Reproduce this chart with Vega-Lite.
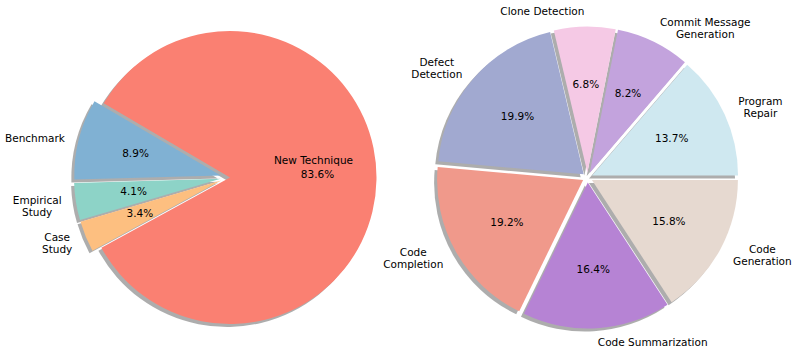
{
  "$schema": "https://vega.github.io/schema/vega-lite/v6.json",
  "padding": 0,
  "spacing": 0,
  "bounds": "flush",
  "background": "white",
  "resolve": {"scale": {"color": "independent", "theta": "independent"}},
  "config": {"view": {"stroke": null}, "font": "DejaVu Sans", "concat": {"spacing": 0}, "text": {"font": "DejaVu Sans", "fontSize": 10.5, "color": "#000000", "lineHeight": 12, "baseline": "middle"}},
  "hconcat": [
    {
      "width": 457,
      "height": 351,
      "data": {"values": [
        {"category": "Case Study", "label": "Case\nStudy", "share": 0.034},
        {"category": "Empirical Study", "label": "Empirical\nStudy", "share": 0.041},
        {"category": "Benchmark", "label": "Benchmark", "share": 0.089},
        {"category": "New Technique", "label": "New Technique", "share": 0.836}
      ]},
      "transform": [{"window": [{"op": "row_number", "as": "rank"}]}],
      "layer": [
        {"mark": {"type": "arc", "radius": 146.5, "xOffset": -10.7, "yOffset": 1, "fill": "#000000"},
         "encoding": {"theta": {"field": "share", "type": "quantitative", "stack": true, "scale": {"domain": [0, 1], "range": [4.2132, 10.4964]}}, "order": {"field": "rank", "type": "quantitative"}, "detail": {"field": "category"},
           "opacity": {"condition": {"test": "datum.category === 'Benchmark'", "value": 0.32}, "value": 0}}},
        {"mark": {"type": "arc", "radius": 146.5, "xOffset": -10.9, "yOffset": 4.3, "fill": "#000000"},
         "encoding": {"theta": {"field": "share", "type": "quantitative", "stack": true}, "order": {"field": "rank", "type": "quantitative"}, "detail": {"field": "category"},
           "opacity": {"condition": {"test": "datum.category === 'Empirical Study'", "value": 0.32}, "value": 0}}},
        {"mark": {"type": "arc", "radius": 146.5, "xOffset": -10.4, "yOffset": 5.5, "fill": "#000000"},
         "encoding": {"theta": {"field": "share", "type": "quantitative", "stack": true}, "order": {"field": "rank", "type": "quantitative"}, "detail": {"field": "category"},
           "opacity": {"condition": {"test": "datum.category === 'Case Study'", "value": 0.32}, "value": 0}}},
        {"mark": {"type": "arc", "radius": 146.5, "xOffset": -1.5, "yOffset": 3, "fill": "#000000"},
         "encoding": {"theta": {"field": "share", "type": "quantitative", "stack": true}, "order": {"field": "rank", "type": "quantitative"}, "detail": {"field": "category"},
           "opacity": {"condition": {"test": "datum.category === 'New Technique'", "value": 0.32}, "value": 0}}},
        {"mark": {"type": "arc", "radius": 146.5, "xOffset": -7.7, "yOffset": -2},
         "encoding": {"theta": {"field": "share", "type": "quantitative", "stack": true}, "order": {"field": "rank", "type": "quantitative"},
           "color": {"field": "category", "type": "nominal", "legend": null, "scale": {"domain": ["Case Study", "Empirical Study", "Benchmark", "New Technique"], "range": ["#FDBF80", "#8DD3C7", "#80B1D3", "#FA8072"]}},
           "opacity": {"condition": {"test": "datum.category === 'Benchmark'", "value": 1}, "value": 0}}},
        {"mark": {"type": "arc", "radius": 146.5, "xOffset": -7.9, "yOffset": 1.3},
         "encoding": {"theta": {"field": "share", "type": "quantitative", "stack": true}, "order": {"field": "rank", "type": "quantitative"},
           "color": {"field": "category", "type": "nominal", "legend": null},
           "opacity": {"condition": {"test": "datum.category === 'Empirical Study'", "value": 1}, "value": 0}}},
        {"mark": {"type": "arc", "radius": 146.5, "xOffset": -7.4, "yOffset": 3},
         "encoding": {"theta": {"field": "share", "type": "quantitative", "stack": true}, "order": {"field": "rank", "type": "quantitative"},
           "color": {"field": "category", "type": "nominal", "legend": null},
           "opacity": {"condition": {"test": "datum.category === 'Case Study'", "value": 1}, "value": 0}}},
        {"mark": {"type": "arc", "radius": 146.5, "xOffset": 1.5, "yOffset": 0},
         "encoding": {"theta": {"field": "share", "type": "quantitative", "stack": true}, "order": {"field": "rank", "type": "quantitative"},
           "color": {"field": "category", "type": "nominal", "legend": null},
           "opacity": {"condition": {"test": "datum.category === 'New Technique'", "value": 1}, "value": 0}}},
        {"mark": {"type": "text", "radius": 96, "align": "center"},
         "encoding": {"theta": {"field": "share", "type": "quantitative", "stack": true}, "order": {"field": "rank", "type": "quantitative"}, "detail": {"field": "category"},
           "text": {"field": "share", "type": "quantitative", "format": ".1%", "condition": {"test": "datum.category === 'New Technique'", "value": ""}}}},
        {"mark": {"type": "text", "radius": 89, "dy": -4, "align": "center"},
         "encoding": {"theta": {"field": "share", "type": "quantitative", "stack": true}, "order": {"field": "rank", "type": "quantitative"}, "detail": {"field": "category"},
           "text": {"field": "share", "type": "quantitative", "format": ".1%", "condition": {"test": "datum.category !== 'New Technique'", "value": ""}}}},
        {"mark": {"type": "text", "radius": 85, "dy": -18, "align": "center"},
         "encoding": {"theta": {"field": "share", "type": "quantitative", "stack": true}, "order": {"field": "rank", "type": "quantitative"}, "detail": {"field": "category"},
           "text": {"field": "label", "condition": {"test": "datum.category !== 'New Technique'", "value": ""}}}},
        {"mark": {"type": "text", "radius": 169, "dy": 4, "align": "right"},
         "encoding": {"theta": {"field": "share", "type": "quantitative", "stack": true}, "order": {"field": "rank", "type": "quantitative"}, "detail": {"field": "category"},
           "text": {"field": "label", "condition": {"test": "datum.category !== 'Benchmark'", "value": ""}}}},
        {"mark": {"type": "text", "radius": 169, "dx": -24.4, "dy": -3, "align": "center", "lineBreak": "\n"},
         "encoding": {"theta": {"field": "share", "type": "quantitative", "stack": true}, "order": {"field": "rank", "type": "quantitative"}, "detail": {"field": "category"},
           "text": {"field": "label", "condition": {"test": "datum.category !== 'Empirical Study'", "value": ""}}}},
        {"mark": {"type": "text", "radius": 169, "dx": -15.2, "dy": -4, "align": "center", "lineBreak": "\n"},
         "encoding": {"theta": {"field": "share", "type": "quantitative", "stack": true}, "order": {"field": "rank", "type": "quantitative"}, "detail": {"field": "category"},
           "text": {"field": "label", "condition": {"test": "datum.category !== 'Case Study'", "value": ""}}}}
      ]
    },
    {
      "width": 261,
      "height": 351,
      "data": {"values": [
        {"category": "Clone Detection", "label": "Clone Detection", "share": 0.068},
        {"category": "Commit Message Generation", "label": "Commit Message\nGeneration", "share": 0.082},
        {"category": "Program Repair", "label": "Program\nRepair", "share": 0.137},
        {"category": "Code Generation", "label": "Code\nGeneration", "share": 0.158},
        {"category": "Code Summarization", "label": "Code Summarization", "share": 0.164},
        {"category": "Code Completion", "label": "Code\nCompletion", "share": 0.192},
        {"category": "Defect Detection", "label": "Defect\nDetection", "share": 0.199}
      ]},
      "transform": [{"window": [{"op": "row_number", "as": "rank"}]}],
      "layer": [
        {"mark": {"type": "arc", "radius": 146, "xOffset": -3.1, "yOffset": -2, "fill": "#000000"},
         "encoding": {"theta": {"field": "share", "type": "quantitative", "stack": true, "scale": {"domain": [0, 1], "range": [-0.23213, 6.05106]}}, "order": {"field": "rank", "type": "quantitative"}, "detail": {"field": "category"},
           "opacity": {"condition": {"test": "datum.category === 'Clone Detection'", "value": 0.32}, "value": 0}}},
        {"mark": {"type": "arc", "radius": 146, "xOffset": -0.8, "yOffset": -1.5, "fill": "#000000"},
         "encoding": {"theta": {"field": "share", "type": "quantitative", "stack": true}, "order": {"field": "rank", "type": "quantitative"}, "detail": {"field": "category"},
           "opacity": {"condition": {"test": "datum.category === 'Commit Message Generation'", "value": 0.32}, "value": 0}}},
        {"mark": {"type": "arc", "radius": 146, "xOffset": 1.5, "yOffset": 0.9, "fill": "#000000"},
         "encoding": {"theta": {"field": "share", "type": "quantitative", "stack": true}, "order": {"field": "rank", "type": "quantitative"}, "detail": {"field": "category"},
           "opacity": {"condition": {"test": "datum.category === 'Program Repair'", "value": 0.32}, "value": 0}}},
        {"mark": {"type": "arc", "radius": 146, "xOffset": 1.4, "yOffset": 5.4, "fill": "#000000"},
         "encoding": {"theta": {"field": "share", "type": "quantitative", "stack": true}, "order": {"field": "rank", "type": "quantitative"}, "detail": {"field": "category"},
           "opacity": {"condition": {"test": "datum.category === 'Code Generation'", "value": 0.32}, "value": 0}}},
        {"mark": {"type": "arc", "radius": 146, "xOffset": -2.7, "yOffset": 8, "fill": "#000000"},
         "encoding": {"theta": {"field": "share", "type": "quantitative", "stack": true}, "order": {"field": "rank", "type": "quantitative"}, "detail": {"field": "category"},
           "opacity": {"condition": {"test": "datum.category === 'Code Summarization'", "value": 0.32}, "value": 0}}},
        {"mark": {"type": "arc", "radius": 146, "xOffset": -7.4, "yOffset": 5.5, "fill": "#000000"},
         "encoding": {"theta": {"field": "share", "type": "quantitative", "stack": true}, "order": {"field": "rank", "type": "quantitative"}, "detail": {"field": "category"},
           "opacity": {"condition": {"test": "datum.category === 'Code Completion'", "value": 0.32}, "value": 0}}},
        {"mark": {"type": "arc", "radius": 146, "xOffset": -6.8, "yOffset": -0.3, "fill": "#000000"},
         "encoding": {"theta": {"field": "share", "type": "quantitative", "stack": true}, "order": {"field": "rank", "type": "quantitative"}, "detail": {"field": "category"},
           "opacity": {"condition": {"test": "datum.category === 'Defect Detection'", "value": 0.32}, "value": 0}}},
        {"mark": {"type": "arc", "radius": 146, "xOffset": -0.1, "yOffset": -5},
         "encoding": {"theta": {"field": "share", "type": "quantitative", "stack": true}, "order": {"field": "rank", "type": "quantitative"},
           "color": {"field": "category", "type": "nominal", "legend": null, "scale": {"domain": ["Clone Detection", "Commit Message Generation", "Program Repair", "Code Generation", "Code Summarization", "Code Completion", "Defect Detection"], "range": ["#F5C9E5", "#C3A3DD", "#CFE8F0", "#E6D9D0", "#B683D4", "#F0998B", "#A1A9D0"]}},
           "opacity": {"condition": {"test": "datum.category === 'Clone Detection'", "value": 1}, "value": 0}}},
        {"mark": {"type": "arc", "radius": 146, "xOffset": 2.2, "yOffset": -4.5},
         "encoding": {"theta": {"field": "share", "type": "quantitative", "stack": true}, "order": {"field": "rank", "type": "quantitative"},
           "color": {"field": "category", "type": "nominal", "legend": null},
           "opacity": {"condition": {"test": "datum.category === 'Commit Message Generation'", "value": 1}, "value": 0}}},
        {"mark": {"type": "arc", "radius": 146, "xOffset": 4.5, "yOffset": -2.1},
         "encoding": {"theta": {"field": "share", "type": "quantitative", "stack": true}, "order": {"field": "rank", "type": "quantitative"},
           "color": {"field": "category", "type": "nominal", "legend": null},
           "opacity": {"condition": {"test": "datum.category === 'Program Repair'", "value": 1}, "value": 0}}},
        {"mark": {"type": "arc", "radius": 146, "xOffset": 4.4, "yOffset": 2.4},
         "encoding": {"theta": {"field": "share", "type": "quantitative", "stack": true}, "order": {"field": "rank", "type": "quantitative"},
           "color": {"field": "category", "type": "nominal", "legend": null},
           "opacity": {"condition": {"test": "datum.category === 'Code Generation'", "value": 1}, "value": 0}}},
        {"mark": {"type": "arc", "radius": 146, "xOffset": 0.3, "yOffset": 5},
         "encoding": {"theta": {"field": "share", "type": "quantitative", "stack": true}, "order": {"field": "rank", "type": "quantitative"},
           "color": {"field": "category", "type": "nominal", "legend": null},
           "opacity": {"condition": {"test": "datum.category === 'Code Summarization'", "value": 1}, "value": 0}}},
        {"mark": {"type": "arc", "radius": 146, "xOffset": -4.4, "yOffset": 2.5},
         "encoding": {"theta": {"field": "share", "type": "quantitative", "stack": true}, "order": {"field": "rank", "type": "quantitative"},
           "color": {"field": "category", "type": "nominal", "legend": null},
           "opacity": {"condition": {"test": "datum.category === 'Code Completion'", "value": 1}, "value": 0}}},
        {"mark": {"type": "arc", "radius": 146, "xOffset": -3.8, "yOffset": -3.3},
         "encoding": {"theta": {"field": "share", "type": "quantitative", "stack": true}, "order": {"field": "rank", "type": "quantitative"},
           "color": {"field": "category", "type": "nominal", "legend": null},
           "opacity": {"condition": {"test": "datum.category === 'Defect Detection'", "value": 1}, "value": 0}}},
        {"mark": {"type": "text", "radius": 92.6, "align": "center"},
         "encoding": {"theta": {"field": "share", "type": "quantitative", "stack": true}, "order": {"field": "rank", "type": "quantitative"}, "detail": {"field": "category"},
           "text": {"field": "share", "type": "quantitative", "format": ".1%"}}},
        {"mark": {"type": "text", "radius": 165.6, "align": "right"},
         "encoding": {"theta": {"field": "share", "type": "quantitative", "stack": true}, "order": {"field": "rank", "type": "quantitative"}, "detail": {"field": "category"},
           "text": {"field": "label", "condition": {"test": "datum.category !== 'Clone Detection'", "value": ""}}}},
        {"mark": {"type": "text", "radius": 165.6, "align": "left"},
         "encoding": {"theta": {"field": "share", "type": "quantitative", "stack": true}, "order": {"field": "rank", "type": "quantitative"}, "detail": {"field": "category"},
           "text": {"field": "label", "condition": {"test": "datum.category !== 'Code Summarization'", "value": ""}}}},
        {"mark": {"type": "text", "radius": 165.6, "dx": -25.5, "dy": -6, "align": "center", "lineBreak": "\n"},
         "encoding": {"theta": {"field": "share", "type": "quantitative", "stack": true}, "order": {"field": "rank", "type": "quantitative"}, "detail": {"field": "category"},
           "text": {"field": "label", "condition": {"test": "datum.category !== 'Defect Detection'", "value": ""}}}},
        {"mark": {"type": "text", "radius": 165.6, "dx": -30.1, "dy": -6, "align": "center", "lineBreak": "\n"},
         "encoding": {"theta": {"field": "share", "type": "quantitative", "stack": true}, "order": {"field": "rank", "type": "quantitative"}, "detail": {"field": "category"},
           "text": {"field": "label", "condition": {"test": "datum.category !== 'Code Completion'", "value": ""}}}},
        {"mark": {"type": "text", "radius": 165.6, "dx": 45.3, "dy": -6, "align": "center", "lineBreak": "\n"},
         "encoding": {"theta": {"field": "share", "type": "quantitative", "stack": true}, "order": {"field": "rank", "type": "quantitative"}, "detail": {"field": "category"},
           "text": {"field": "label", "condition": {"test": "datum.category !== 'Commit Message Generation'", "value": ""}}}},
        {"mark": {"type": "text", "radius": 165.6, "dx": 22.4, "dy": -6, "align": "center", "lineBreak": "\n"},
         "encoding": {"theta": {"field": "share", "type": "quantitative", "stack": true}, "order": {"field": "rank", "type": "quantitative"}, "detail": {"field": "category"},
           "text": {"field": "label", "condition": {"test": "datum.category !== 'Program Repair'", "value": ""}}}},
        {"mark": {"type": "text", "radius": 165.6, "dx": 29.3, "dy": -6, "align": "center", "lineBreak": "\n"},
         "encoding": {"theta": {"field": "share", "type": "quantitative", "stack": true}, "order": {"field": "rank", "type": "quantitative"}, "detail": {"field": "category"},
           "text": {"field": "label", "condition": {"test": "datum.category !== 'Code Generation'", "value": ""}}}}
      ]
    }
  ]
}
